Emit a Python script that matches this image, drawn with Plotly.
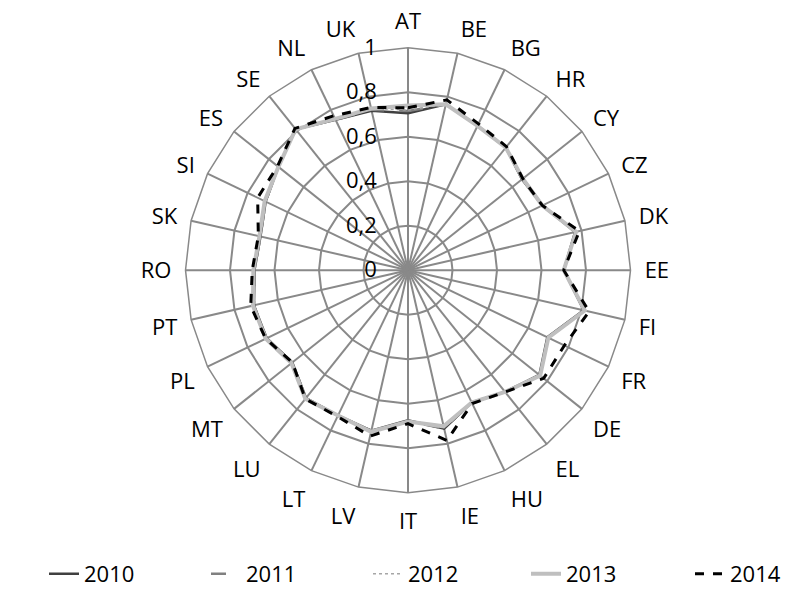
import plotly.graph_objects as go

categories = ["AT", "BE", "BG", "HR", "CY", "CZ", "DK", "EE", "FI", "FR", "DE", "EL", "HU", "IE",
              "IT", "LV", "LT", "LU", "MT", "PL", "PT", "RO", "SK", "SI", "ES", "SE", "NL", "UK"]

v2010 = [0.705, 0.765, 0.72, 0.705, 0.655, 0.67, 0.77, 0.70, 0.81, 0.695, 0.755, 0.70, 0.66, 0.73,
         0.675, 0.74, 0.725, 0.735, 0.665, 0.705, 0.71, 0.69, 0.68, 0.71, 0.745, 0.81, 0.75, 0.735]
v2011 = [0.715, 0.765, 0.72, 0.705, 0.66, 0.67, 0.775, 0.70, 0.815, 0.70, 0.755, 0.70, 0.66, 0.73,
         0.68, 0.74, 0.725, 0.735, 0.665, 0.705, 0.71, 0.69, 0.68, 0.71, 0.745, 0.81, 0.75, 0.74]
v2012 = [0.72, 0.765, 0.72, 0.705, 0.66, 0.67, 0.775, 0.70, 0.815, 0.70, 0.76, 0.70, 0.66, 0.725,
         0.68, 0.745, 0.725, 0.74, 0.67, 0.71, 0.715, 0.695, 0.685, 0.715, 0.745, 0.81, 0.755, 0.745]
v2013 = [0.74, 0.765, 0.72, 0.705, 0.66, 0.67, 0.775, 0.70, 0.815, 0.70, 0.76, 0.70, 0.66, 0.72,
         0.68, 0.745, 0.725, 0.74, 0.67, 0.71, 0.715, 0.695, 0.685, 0.715, 0.745, 0.81, 0.755, 0.745]
v2014 = [0.73, 0.785, 0.73, 0.71, 0.66, 0.67, 0.79, 0.70, 0.835, 0.78, 0.78, 0.70, 0.665, 0.785,
         0.69, 0.765, 0.73, 0.74, 0.665, 0.71, 0.725, 0.70, 0.69, 0.75, 0.75, 0.815, 0.77, 0.75]

radial_ticks = [0, 0.2, 0.4, 0.6, 0.8, 1]
radial_ticktext = ["0", "0,2", "0,4", "0,6", "0,8", "1"]

series = [
    ("2010", v2010, "#404040", "solid", 2.5),
    ("2011", v2011, "#808080", "longdash", 2.5),
    ("2012", v2012, "#a6a6a6", "dot", 1.5),
    ("2013", v2013, "#bfbfbf", "solid", 4),
    ("2014", v2014, "#000000", "dash", 3),
]

W, H = 788, 595
cx, cy, R = 408, 272, 224
legend_text_x = [88, 250, 412, 570, 734]  # left edge of each legend label, px

fig = go.Figure()
legend_layouts = {}
for i, (name, vals, color, dash, w) in enumerate(series):
    key = "legend" if i == 0 else f"legend{i + 1}"
    fig.add_trace(go.Scatterpolar(
        r=vals + vals[:1],
        theta=categories + categories[:1],
        mode="lines",
        name=name,
        legend=key,
        line=dict(color=color, dash=dash, width=w),
    ))
    legend_layouts[key] = dict(
        orientation="h",
        x=(legend_text_x[i] - 44) / W, xanchor="left",
        y=0.029, yanchor="middle",
        font=dict(size=22),
        bgcolor="rgba(0,0,0,0)",
    )

fig.update_layout(
    width=W, height=H,
    margin=dict(l=0, r=0, t=0, b=0),
    paper_bgcolor="white",
    plot_bgcolor="white",
    font=dict(family="Open Sans", size=22, color="#000000"),
    polar=dict(
        domain=dict(x=[(cx - R) / W, (cx + R) / W], y=[(H - cy - R) / H, (H - cy + R) / H]),
        gridshape="linear",
        bgcolor="white",
        angularaxis=dict(
            direction="clockwise",
            rotation=90,
            showline=True,
            linecolor="#898989",
            linewidth=1.5,
            gridcolor="#898989",
            gridwidth=1.5,
            ticks="outside",
            ticklen=9,
            tickcolor="rgba(0,0,0,0)",
            tickfont=dict(size=22),
        ),
        radialaxis=dict(
            range=[0, 1],
            angle=90,
            tickangle=90,
            side="counterclockwise",
            tickvals=radial_ticks,
            ticktext=radial_ticktext,
            showline=False,
            ticks="outside",
            ticklen=23,
            tickcolor="rgba(0,0,0,0)",
            gridcolor="#898989",
            gridwidth=1.5,
            tickfont=dict(size=22),
        ),
    ),
    showlegend=True,
    **legend_layouts,
)

fig.write_html("out.html", config=dict(displayModeBar=False),
               post_script="document.body.style.margin='0px';")
